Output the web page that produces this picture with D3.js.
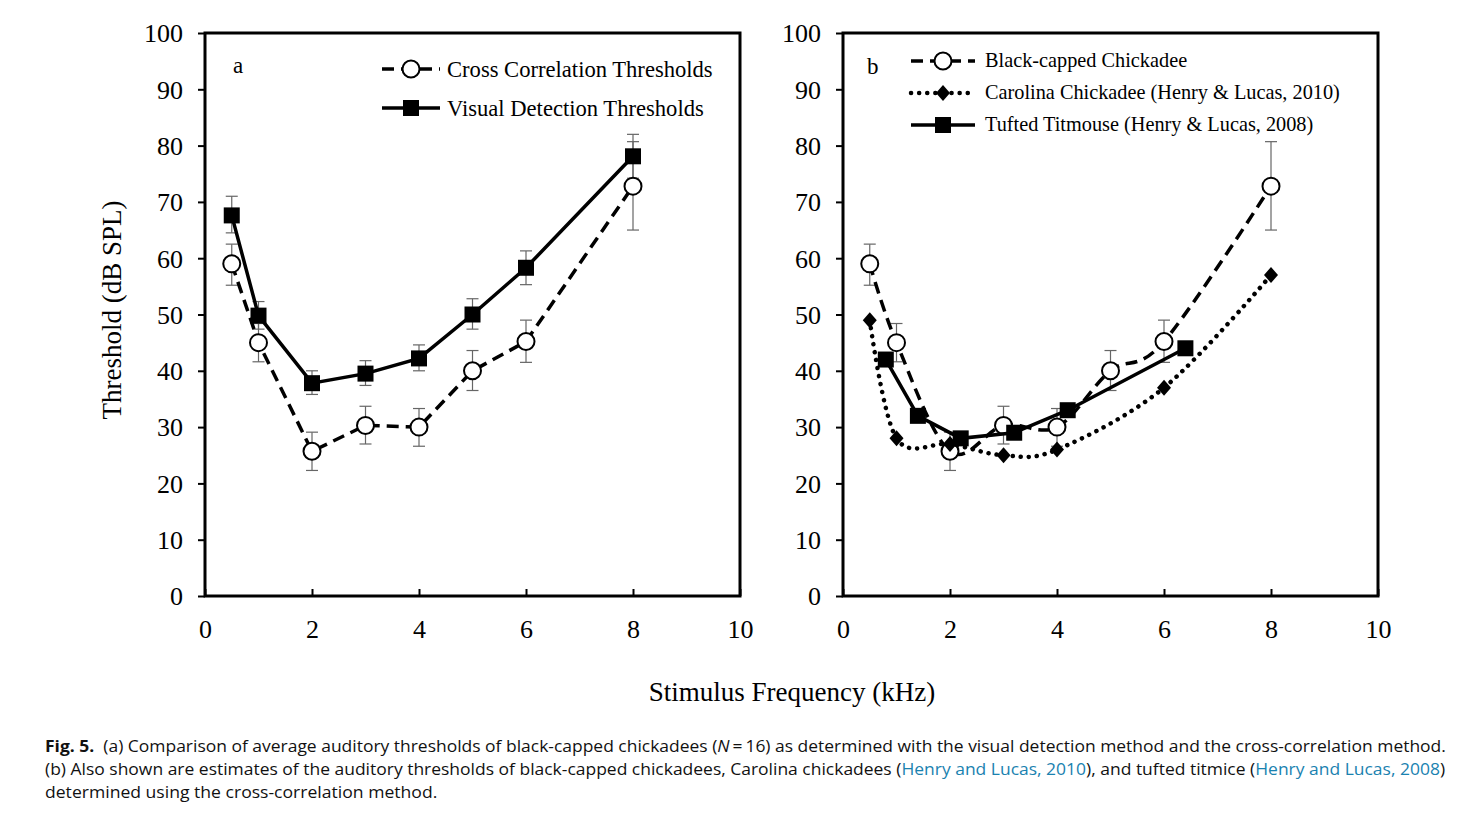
<!DOCTYPE html>
<html><head><meta charset="utf-8">
<script src="https://cdn.jsdelivr.net/npm/d3@7"></script>
<style>
body{margin:0;background:#fff;}
svg{display:block;}
</style></head>
<body>
<svg id="chart" width="1478" height="820"></svg>
<script>
// ---------- data ----------
const freqBCC = [0.5, 1, 2, 3, 4, 5, 6, 8];
const crossCorr = [59, 45, 25.7, 30.3, 30, 40, 45.2, 72.8];
const crossCorrLo = [55.2, 41.6, 22.3, 27, 26.6, 36.5, 41.5, 65];
const crossCorrHi = [62.5, 48.4, 29.1, 33.7, 33.3, 43.6, 49, 80.7];
const visualDet = [67.6, 49.8, 37.8, 39.5, 42.2, 50, 58.3, 78.1];
const visualDetLo = [64.5, 47.4, 35.8, 37.4, 40, 47.4, 55.3, 74.2];
const visualDetHi = [71, 52.3, 40, 41.8, 44.6, 52.8, 61.3, 82];
const freqCarolina = [0.5, 1, 2, 3, 4, 6, 8];
const carolina = [49, 28, 27, 25, 26, 37, 57];
const freqTitmouse = [0.8, 1.4, 2.2, 3.2, 4.2, 6.4];
const titmouse = [42, 32, 28, 29, 33, 44];
const xTicks = [0, 2, 4, 6, 8, 10];
const yTicks = [0, 10, 20, 30, 40, 50, 60, 70, 80, 90, 100];
const legendA = ["Cross Correlation Thresholds", "Visual Detection Thresholds"];
const legendB = ["Black-capped Chickadee", "Carolina Chickadee (Henry & Lucas, 2010)", "Tufted Titmouse (Henry & Lucas, 2008)"];

const svg = d3.select("#chart");
const serif = "'Liberation Serif','Times New Roman',serif";
const plotTop = 33, plotBottom = 596;
const y = d3.scaleLinear().domain([0, 100]).range([plotBottom, plotTop]);

function panel(x0, x1) {
  const x = d3.scaleLinear().domain([0, 10]).range([x0, x1]);
  const g = svg.append("g");
  const ya = g.append("g").attr("transform", `translate(${x0},0)`)
    .call(d3.axisLeft(y).tickValues(yTicks).tickSize(7).tickPadding(15));
  ya.select(".domain").remove();
  ya.selectAll("line").attr("stroke", "#000").attr("stroke-width", 2);
  ya.selectAll("text").attr("font-family", serif).attr("font-size", 26).attr("fill", "#000").attr("dy", "0.34em");
  const xa = g.append("g").attr("transform", `translate(0,${plotBottom})`)
    .call(d3.axisBottom(x).tickValues(xTicks).tickSize(-7).tickPadding(0));
  xa.select(".domain").remove();
  xa.selectAll("line").attr("stroke", "#000").attr("stroke-width", 2);
  xa.selectAll("text").attr("font-family", serif).attr("font-size", 26).attr("fill", "#000")
    .attr("y", 42).attr("dy", 0);
  g.append("rect").attr("x", x0).attr("y", plotTop).attr("width", x1 - x0).attr("height", plotBottom - plotTop)
    .attr("fill", "none").attr("stroke", "#000").attr("stroke-width", 3);
  return {g, x};
}

function errorBars(g, x, xs, lo, hi) {
  xs.forEach((f, i) => {
    const cx = x(f);
    g.append("line").attr("x1", cx).attr("x2", cx).attr("y1", y(lo[i])).attr("y2", y(hi[i]))
      .attr("stroke", "#666").attr("stroke-width", 1.2);
    [lo[i], hi[i]].forEach(v => g.append("line").attr("x1", cx - 6).attr("x2", cx + 6)
      .attr("y1", y(v)).attr("y2", y(v)).attr("stroke", "#666").attr("stroke-width", 1.2));
  });
}

function marker(g, cx, cy, type) {
  if (type === "circle") {
    g.append("circle").attr("cx", cx).attr("cy", cy).attr("r", 8.5)
      .attr("fill", "#fff").attr("stroke", "#000").attr("stroke-width", 2);
  } else if (type === "square") {
    g.append("rect").attr("x", cx - 8).attr("y", cy - 8).attr("width", 16).attr("height", 16).attr("fill", "#000");
  } else if (type === "diamond") {
    g.append("path").attr("d", `M${cx},${cy - 8}L${cx + 7},${cy}L${cx},${cy + 8}L${cx - 7},${cy}Z`).attr("fill", "#000");
  }
}

function series(g, x, xs, ys, opts) {
  const pts = xs.map((f, i) => [x(f), y(ys[i])]);
  const line = d3.line().curve(opts.curve || d3.curveLinear);
  g.append("path").attr("d", line(pts)).attr("fill", "none").attr("stroke", "#000")
    .attr("stroke-width", opts.width || 3.5).attr("stroke-dasharray", opts.dash || null)
    .attr("stroke-linecap", opts.cap || "butt");
  pts.forEach(p => marker(g, p[0], p[1], opts.marker));
}

// ---------- panel a ----------
const A = panel(205, 740);
errorBars(A.g, A.x, freqBCC, crossCorrLo, crossCorrHi);
errorBars(A.g, A.x, freqBCC, visualDetLo, visualDetHi);
series(A.g, A.x, freqBCC, crossCorr, {marker: "circle", dash: "12,7"});
series(A.g, A.x, freqBCC, visualDet, {marker: "square"});
A.g.append("text").attr("x", 233).attr("y", 73).text("a").attr("font-family", serif).attr("font-size", 23);
[[69, "12,7", "circle"], [108, null, "square"]].forEach((d, i) => {
  A.g.append("line").attr("x1", 382).attr("x2", 440).attr("y1", d[0]).attr("y2", d[0])
    .attr("stroke", "#000").attr("stroke-width", 3.5).attr("stroke-dasharray", d[1]);
  marker(A.g, 411, d[0], d[2]);
  A.g.append("text").attr("x", 447).attr("y", d[0] + 8).text(legendA[i])
    .attr("font-family", serif).attr("font-size", 22.6);
});

// ---------- panel b ----------
const B = panel(843, 1378);
const smooth = d3.curveCatmullRom.alpha(0);
errorBars(B.g, B.x, freqBCC, crossCorrLo, crossCorrHi);
series(B.g, B.x, freqBCC, crossCorr, {marker: "circle", dash: "12,7", curve: smooth});
series(B.g, B.x, freqCarolina, carolina, {marker: "diamond", dash: "0.1,8", cap: "round", width: 4.5, curve: smooth});
series(B.g, B.x, freqTitmouse, titmouse, {marker: "square"});
B.g.append("text").attr("x", 867).attr("y", 74).text("b").attr("font-family", serif).attr("font-size", 23);
[[61, "12,7", "circle", "butt", 3.5], [93, "0.1,8", "diamond", "round", 4.5], [125, null, "square", "butt", 3.5]].forEach((d, i) => {
  B.g.append("line").attr("x1", 911).attr("x2", 975).attr("y1", d[0]).attr("y2", d[0])
    .attr("stroke", "#000").attr("stroke-width", d[4]).attr("stroke-dasharray", d[1]).attr("stroke-linecap", d[3]);
  marker(B.g, 943, d[0], d[2]);
  B.g.append("text").attr("x", 985).attr("y", d[0] + 6).text(legendB[i])
    .attr("font-family", serif).attr("font-size", 20.3);
});

// ---------- axis titles ----------
svg.append("text").attr("transform", "translate(121,310) rotate(-90)").attr("text-anchor", "middle")
  .attr("font-family", serif).attr("font-size", 27).text("Threshold (dB SPL)");
svg.append("text").attr("x", 792).attr("y", 701).attr("text-anchor", "middle")
  .attr("font-family", serif).attr("font-size", 27).text("Stimulus Frequency (kHz)");

// ---------- caption (condensed by horizontal scaling to match widths) ----------
const capFont = "'Liberation Sans Narrow','Open Sans','Noto Sans',sans-serif";
const blue = "#1a82b0";
function capLine(yPos, width, parts) {
  const g = svg.append("g").attr("transform", `translate(45,${yPos})`);
  const t = g.append("text").attr("x", 0).attr("y", 0).attr("font-family", capFont)
    .attr("font-size", 16.8).attr("fill", "#111");
  parts.forEach(p => {
    const s = t.append("tspan").text(p.t);
    if (p.b) s.attr("font-weight", "bold");
    if (p.i) s.attr("font-style", "italic");
    if (p.c) s.attr("fill", p.c);
  });
  const w = t.node().getComputedTextLength();
  g.attr("transform", `translate(45,${yPos}) scale(${width / w},1)`);
}
capLine(752, 1400, [
  {t: "Fig. 5.", b: true},
  {t: "\u00a0 (a) Comparison of average auditory thresholds of black-capped chickadees ("},
  {t: "N", i: true},
  {t: "\u2009=\u200916) as determined with the visual detection method and the cross-correlation method."}
]);
capLine(775, 1400, [
  {t: "(b) Also shown are estimates of the auditory thresholds of black-capped chickadees, Carolina chickadees ("},
  {t: "Henry and Lucas, 2010", c: blue},
  {t: "), and tufted titmice ("},
  {t: "Henry and Lucas, 2008", c: blue},
  {t: ")"}
]);
capLine(798, 392, [{t: "determined using the cross-correlation method."}]);
</script>
</body></html>
